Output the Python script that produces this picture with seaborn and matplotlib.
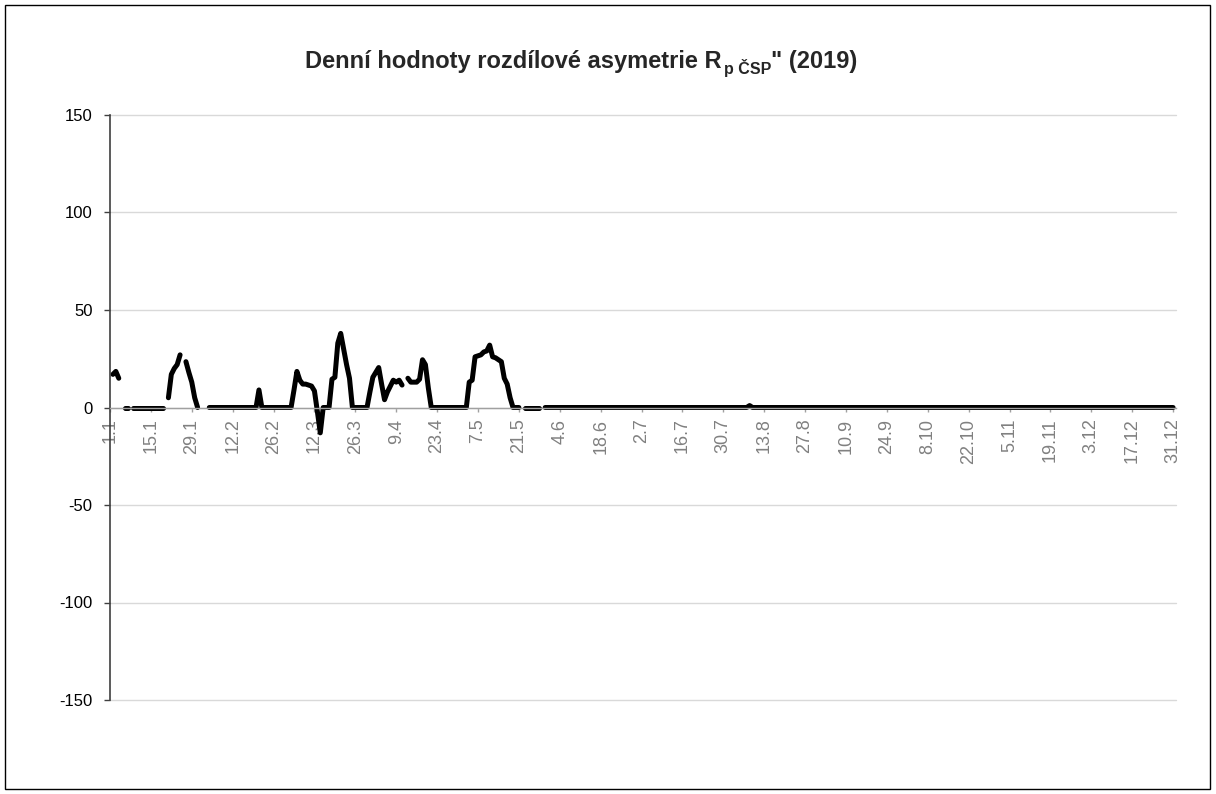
import numpy as np
import pandas as pd
import matplotlib
matplotlib.use("Agg")
import matplotlib.pyplot as plt
import seaborn as sns
from matplotlib.patches import Rectangle

nan = np.nan

# Daily values 2019 (NaN = no value)
jan = [nan, 17, 18.5, 15, nan, 0, 0, nan, 0, 0, 0, 0, 0, 0, 0, 0, 0, 0, 0,
       nan, 5, 17, 20, 22, 27, nan, 23.5, 18, 13, 5, 0]
feb = [nan, nan, nan, 0, 0, 0, 0, 0, 0, 0, 0, 0, 0, 0, 0, 0, 0, 0, 0, 0,
       9, 0, 0, 0, 0, 0, 0, 0]
mar = [0, 0, 0, 0, 9, 18.5, 14, 12, 12, 11.5, 11, 8.5, -2, -13, 0, 0, 0,
       14.5, 15.5, 33, 38, 30, 22, 15, 0, 0, 0, 0, 0, 0, 8]
apr = [15.5, 18, 20.5, 12, 4, 8, 11, 14, 13, 14, 11.5, nan, 15, 13, 13, 13,
       14.5, 24.5, 22, 10, 0, 0, 0, 0, 0, 0, 0, 0, 0, 0]
may = [0, 0, 0, 13, 14, 26, 26.5, 27, 28.5, 29, 32, 26, 25.5, 24.5, 23.5, 15,
       12, 5, 0, 0, 0, nan, 0, 0, 0, 0, 0, 0, nan, 0, 0]
jun = [0] * 30
jul = [0] * 31
aug = [0] * 7 + [1] + [0] * 23
sep = [0] * 30
oct_ = [0] * 31
nov = [0] * 30
dec = [0] * 31

tick_labels = ["1.1", "15.1", "29.1", "12.2", "26.2", "12.3", "26.3", "9.4",
               "23.4", "7.5", "21.5", "4.6", "18.6", "2.7", "16.7", "30.7",
               "13.8", "27.8", "10.9", "24.9", "8.10", "22.10", "5.11",
               "19.11", "3.12", "17.12", "31.12"]
y_ticks = [-150, -100, -50, 0, 50, 100, 150]

values = jan + feb + mar + apr + may + jun + jul + aug + sep + oct_ + nov + dec
df = pd.DataFrame({"day": np.arange(len(values)), "value": values})
# separate contiguous runs so gaps stay gaps
df["seg"] = df["value"].isna().cumsum()
df = df.dropna()

sns.set_style("white")
plt.rcParams["font.family"] = ["Liberation Sans", "DejaVu Sans"]

fig = plt.figure(figsize=(12.16, 7.94), dpi=100)
ax = fig.add_axes([110 / 1216, 94 / 794, 1066 / 1216, 585 / 794])

sns.lineplot(data=df, x="day", y="value", units="seg", estimator=None,
             color="black", lw=3.6, ax=ax, legend=False, sort=True,
             solid_capstyle="round", solid_joinstyle="round")

ax.set_xlim(0, 365)
ax.set_ylim(-150, 150)
ax.set_yticks(y_ticks)
ax.set_yticklabels([str(v) for v in y_ticks])
ax.set_xticks(np.arange(0, 365, 14))
ax.set_xticklabels(tick_labels)
ax.set_xlabel("")
ax.set_ylabel("")

ax.grid(axis="y", color="#d9d9d9", lw=1)
ax.grid(axis="x", visible=False)
ax.set_axisbelow(True)
for gl in ax.get_ygridlines():
    gl.set_clip_on(False)

for s in ["top", "right"]:
    ax.spines[s].set_visible(False)
ax.spines["left"].set_color("#404040")
ax.spines["left"].set_linewidth(1.2)
ax.spines["bottom"].set_position(("data", 0))
ax.spines["bottom"].set_color("#a0a0a0")
ax.spines["bottom"].set_linewidth(1)

ax.tick_params(axis="y", which="major", left=True, length=4.5, width=1,
               color="#404040", labelsize=12, labelcolor="black", pad=8)
ax.tick_params(axis="x", which="major", bottom=True, length=3, width=1,
               color="#a0a0a0", labelsize=13, labelcolor="#808080", pad=5,
               labelrotation=90)

# title with subscript
fs_title = 17
t1 = fig.text(305 / 1216, 1 - 68 / 794, "Denní hodnoty rozdílové asymetrie R",
              fontsize=fs_title, weight="bold", ha="left", va="baseline")
t2 = ax.annotate("p ČSP", xy=(1, 0), xycoords=t1, xytext=(1.5, -3),
                 textcoords="offset points", fontsize=11.5, weight="bold",
                 ha="left", va="bottom", annotation_clip=False)
t3 = ax.annotate("\" (2019)", xy=(1, 0), xycoords=(t2, t1), xytext=(0, 0),
                 textcoords="offset points", fontsize=fs_title, weight="bold",
                 ha="left", va="bottom", annotation_clip=False)

fig.patches.append(Rectangle((5 / 1216, 5 / 794), 1205 / 1216, 784 / 794,
                             transform=fig.transFigure, fill=False,
                             edgecolor="black", lw=1))

fig.savefig("out.png", dpi=100, facecolor="white")
